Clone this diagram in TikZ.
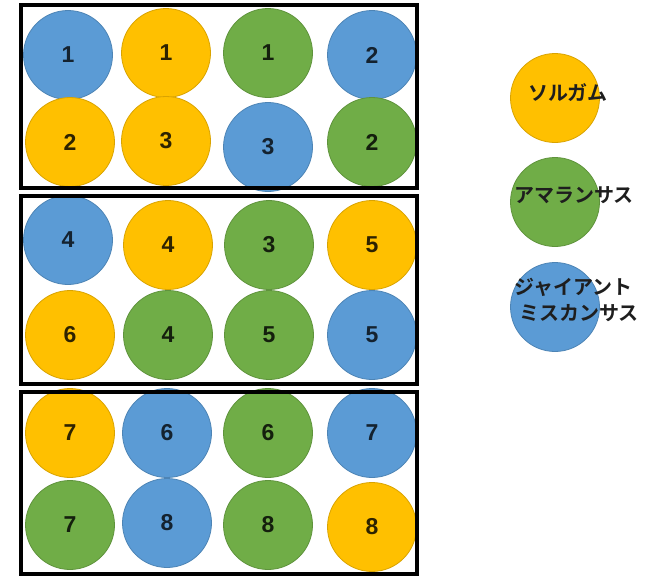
\documentclass[tikz,border=0pt]{standalone}
\usepackage{fontspec}
\setmainfont{Liberation Sans}
\newfontfamily\jpfont{Noto Sans CJK JP}[BoldFont={* Bold}]
\definecolor{cblue}{HTML}{5B9BD5}
\definecolor{cyel}{HTML}{FFC000}
\definecolor{cgrn}{HTML}{70AD47}
\definecolor{ctxt}{HTML}{1E1E1E}
\begin{document}
\begin{tikzpicture}[x=1pt,y=-1pt,
  disc/.style={circle,minimum size=89pt,inner sep=0pt,line width=0.8pt,
    font=\bfseries\fontsize{23}{23}\selectfont},
  B/.style={disc,fill=cblue,draw=cblue!85!black,text=cblue!22!black},
  Y/.style={disc,fill=cyel,draw=cyel!85!black,text=cyel!18!black},
  G/.style={disc,fill=cgrn,draw=cgrn!85!black,text=cgrn!18!black},
  frame/.style={draw=black,line width=4pt},
  leg/.style={font=\jpfont\bfseries\fontsize{20}{26}\selectfont,text=ctxt,inner sep=0pt,align=left}]
\useasboundingbox (0,0) rectangle (659,576);
% box 1
\node[B] (b1) at (68,55) {1};
\node[Y] (y1) at (166,53) {1};
\node[G] (g1) at (268,53) {1};
\node[B] (b2) at (372,55) {2};
\node[Y] (y2) at (70,142) {2};
\node[Y] (y3) at (166,141) {3};
\node[B] (b3) at (268,147) {3};
\node[G] (g2) at (372,142) {2};
% box 2
\node[B] (b4) at (68,240) {4};
\node[Y] (y4) at (168,245) {4};
\node[G] (g3) at (269,245) {3};
\node[Y] (y5) at (372,245) {5};
\node[Y] (y6) at (70,335) {6};
\node[G] (g4) at (168,335) {4};
\node[G] (g5) at (269,335) {5};
\node[B] (b5) at (372,335) {5};
% box 3
\node[Y] (y7) at (70,433) {7};
\node[B] (b6) at (167,433) {6};
\node[G] (g6) at (268,433) {6};
\node[B] (b7) at (372,433) {7};
\node[G] (g7) at (70,525) {7};
\node[B] (b8) at (167,523) {8};
\node[G] (g8) at (268,525) {8};
\node[Y] (y8) at (372,527) {8};
% frames
\draw[frame] (21,5) rectangle (417,188);
\draw[frame] (21,196) rectangle (417,384);
\draw[frame] (21,392) rectangle (417,574);
% legend
\node[Y] (ly) at (555,98) {};
\node[G] (lg) at (555,202) {};
\node[B] (lb) at (555,307) {};
\node[leg,anchor=west] (ty) at (528,93) {ソルガム};
\node[leg,anchor=west] (tg) at (514,195) {アマランサス};
\node[leg,anchor=west] (tb) at (514,300) {ジャイアント\\\hspace*{5pt}ミスカンサス};
\end{tikzpicture}
\end{document}
